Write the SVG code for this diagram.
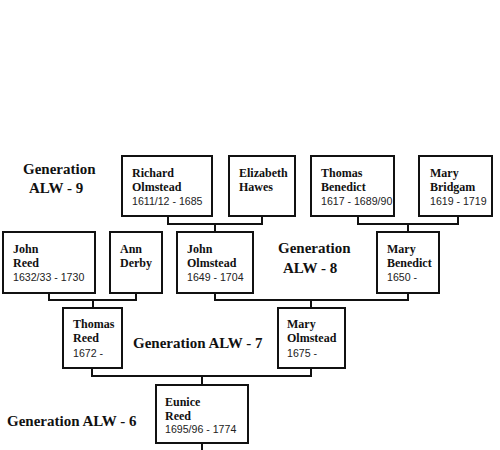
<svg xmlns="http://www.w3.org/2000/svg" width="500" height="450" viewBox="0 0 500 450">
<style>
.box{fill:#fff;stroke:#111;stroke-width:2}
.ln{fill:none;stroke:#111;stroke-width:2}
.nm{font-family:"Liberation Serif","DejaVu Serif",serif;font-weight:bold;font-size:12px;fill:#111}
.dt{font-family:"Liberation Sans","DejaVu Sans",sans-serif;font-size:10.6px;fill:#222}
.gen{font-family:"Liberation Serif","DejaVu Serif",serif;font-weight:bold;font-size:15px;fill:#111}
</style>
<rect width="500" height="450" fill="#fff"/>
<g id="connectors">
<polyline class="ln" points="168,216 168,224 262,224 262,216"/>
<line class="ln" x1="215" y1="224" x2="215" y2="232"/>
<polyline class="ln" points="358,216 358,224 458,224 458,216"/>
<line class="ln" x1="408" y1="224" x2="408" y2="232"/>
<polyline class="ln" points="49,293 49,300 136,300 136,293"/>
<line class="ln" x1="93" y1="300" x2="93" y2="308"/>
<polyline class="ln" points="215,293 215,300 408,300 408,293"/>
<line class="ln" x1="311" y1="300" x2="311" y2="308"/>
<polyline class="ln" points="92,368 92,376 311,376 311,368"/>
<line class="ln" x1="202" y1="376" x2="202" y2="385"/>
<line class="ln" x1="202" y1="443" x2="202" y2="450"/>
</g>
<g id="gen9"><text class="gen" x="23" y="174">Generation</text><text class="gen" x="29" y="193">ALW - 9</text></g>
<g id="gen8"><text class="gen" x="278" y="253">Generation</text><text class="gen" x="283" y="273">ALW - 8</text></g>
<g id="gen7"><text class="gen" x="133" y="348">Generation ALW - 7</text></g>
<g id="gen6"><text class="gen" x="7" y="426">Generation ALW - 6</text></g>
<g id="richard"><rect class="box" x="122" y="156" width="90" height="60"/><text class="nm" x="132" y="177">Richard</text><text class="nm" x="132" y="191">Olmstead</text><text class="dt" x="132" y="205">1611/12 - 1685</text></g>
<g id="elizabeth"><rect class="box" x="229" y="156" width="66" height="60"/><text class="nm" x="239" y="177">Elizabeth</text><text class="nm" x="239" y="191">Hawes</text></g>
<g id="thomasb"><rect class="box" x="311" y="156" width="83" height="60"/><text class="nm" x="321" y="177">Thomas</text><text class="nm" x="321" y="191">Benedict</text><text class="dt" x="321" y="205">1617 - 1689/90</text></g>
<g id="maryb"><rect class="box" x="419" y="156" width="73" height="60"/><text class="nm" x="430" y="177">Mary</text><text class="nm" x="430" y="191">Bridgam</text><text class="dt" x="430" y="205">1619 - 1719</text></g>
<g id="johnreed"><rect class="box" x="3" y="232" width="92" height="61"/><text class="nm" x="13" y="253">John</text><text class="nm" x="13" y="267">Reed</text><text class="dt" x="13" y="281">1632/33 - 1730</text></g>
<g id="ann"><rect class="box" x="110" y="232" width="52" height="61"/><text class="nm" x="120" y="253">Ann</text><text class="nm" x="120" y="267">Derby</text></g>
<g id="johno"><rect class="box" x="177" y="232" width="76" height="61"/><text class="nm" x="187" y="253">John</text><text class="nm" x="187" y="267">Olmstead</text><text class="dt" x="187" y="281">1649 - 1704</text></g>
<g id="marybene"><rect class="box" x="377" y="232" width="62" height="61"/><text class="nm" x="387" y="253">Mary</text><text class="nm" x="387" y="267">Benedict</text><text class="dt" x="387" y="281">1650 -</text></g>
<g id="thomasr"><rect class="box" x="63" y="308" width="59" height="60"/><text class="nm" x="73" y="328">Thomas</text><text class="nm" x="73" y="342">Reed</text><text class="dt" x="73" y="357">1672 -</text></g>
<g id="maryo"><rect class="box" x="278" y="308" width="67" height="60"/><text class="nm" x="287" y="328">Mary</text><text class="nm" x="287" y="342">Olmstead</text><text class="dt" x="287" y="357">1675 -</text></g>
<g id="eunice"><rect class="box" x="156" y="385" width="92" height="58"/><text class="nm" x="165" y="406">Eunice</text><text class="nm" x="165" y="420">Reed</text><text class="dt" x="165" y="433">1695/96 - 1774</text></g>
</svg>
